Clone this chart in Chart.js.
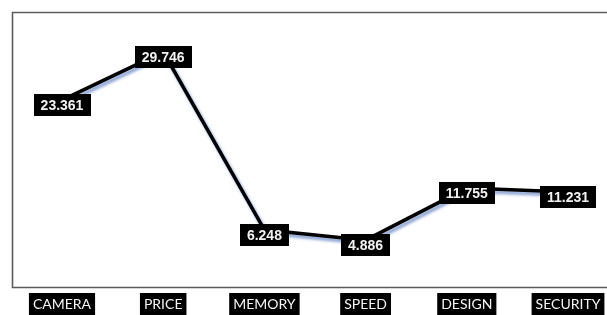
<!DOCTYPE html>
<html>
<head>
<meta charset="utf-8">
<script src="https://cdn.jsdelivr.net/npm/chart.js@4.4.1/dist/chart.umd.min.js"></script>
<style>
  html, body { margin: 0; padding: 0; background: #fff; }
  #wrap { width: 607px; height: 315px; }
</style>
</head>
<body>
<div id="wrap"><canvas id="grafico" width="607" height="315"></canvas></div>
<script>
const categorias = ["CAMERA", "PRICE", "MEMORY", "SPEED", "DESIGN", "SECURITY"];
const valores = [23.361, 29.746, 6.248, 4.886, 11.755, 11.231];

// marco del area del grafico (solo arriba, izquierda y abajo)
const marco = {
  id: "marco",
  beforeDraw(chart) {
    const ctx = chart.ctx;
    ctx.save();
    ctx.strokeStyle = "#5c5c5c";
    ctx.lineWidth = 1.6;
    ctx.beginPath();
    ctx.moveTo(607, 12.5);
    ctx.lineTo(12.5, 12.5);
    ctx.lineTo(12.5, 287.5);
    ctx.lineTo(607, 287.5);
    ctx.stroke();
    ctx.restore();
  }
};

// sombra azulada de la linea
const sombra = {
  id: "sombra",
  beforeDatasetDraw(chart) {
    const ctx = chart.ctx;
    ctx.save();
    ctx.shadowColor = "rgba(110,140,200,0.85)";
    ctx.shadowOffsetX = 2;
    ctx.shadowOffsetY = 3;
    ctx.shadowBlur = 3;
  },
  afterDatasetDraw(chart) {
    chart.ctx.restore();
  }
};

// etiquetas de datos: caja negra con texto blanco
const etiquetas = {
  id: "etiquetas",
  afterDatasetsDraw(chart) {
    const ctx = chart.ctx;
    const meta = chart.getDatasetMeta(0);
    ctx.save();
    ctx.font = "bold 14px 'Liberation Sans', Arial, sans-serif";
    ctx.textAlign = "center";
    ctx.textBaseline = "middle";
    meta.data.forEach((p, i) => {
      const txt = valores[i].toFixed(3);
      const w = ctx.measureText(txt).width + 14;
      const h = 22;
      const cx = p.x;
      const cy = p.y + 5;
      ctx.fillStyle = "#000";
      ctx.fillRect(Math.round(cx - w / 2), Math.round(cy - h / 2), Math.round(w), h);
      ctx.fillStyle = "#f2f2f2";
      ctx.fillText(txt, cx, cy + 1);
    });
    ctx.restore();
  }
};

new Chart(document.getElementById("grafico").getContext("2d"), {
  type: "line",
  data: {
    labels: categorias,
    datasets: [{
      data: valores,
      borderColor: "#000",
      borderWidth: 3.5,
      pointRadius: 3,
      pointBackgroundColor: "#000",
      pointBorderWidth: 0,
      tension: 0,
      fill: false
    }]
  },
  options: {
    responsive: false,
    animation: false,
    events: [],
    layout: { padding: { left: 62, right: 39, top: 12, bottom: 0 } },
    plugins: {
      legend: { display: false },
      tooltip: { enabled: false }
    },
    scales: {
      x: {
        offset: false,
        grid: { display: false },
        border: { display: false },
        afterFit: s => { s.height = 28; },
        ticks: {
          autoSkip: false,
          maxRotation: 0,
          padding: 1,
          color: "#f4f4f4",
          font: { family: "Lato, sans-serif", size: 14 },
          showLabelBackdrop: true,
          backdropColor: "#000",
          backdropPadding: { top: 3, bottom: 3, left: 4, right: 4 }
        }
      },
      y: {
        display: false,
        min: -1.3,
        max: 35
      }
    }
  },
  plugins: [marco, sombra, etiquetas]
});
</script>
</body>
</html>
